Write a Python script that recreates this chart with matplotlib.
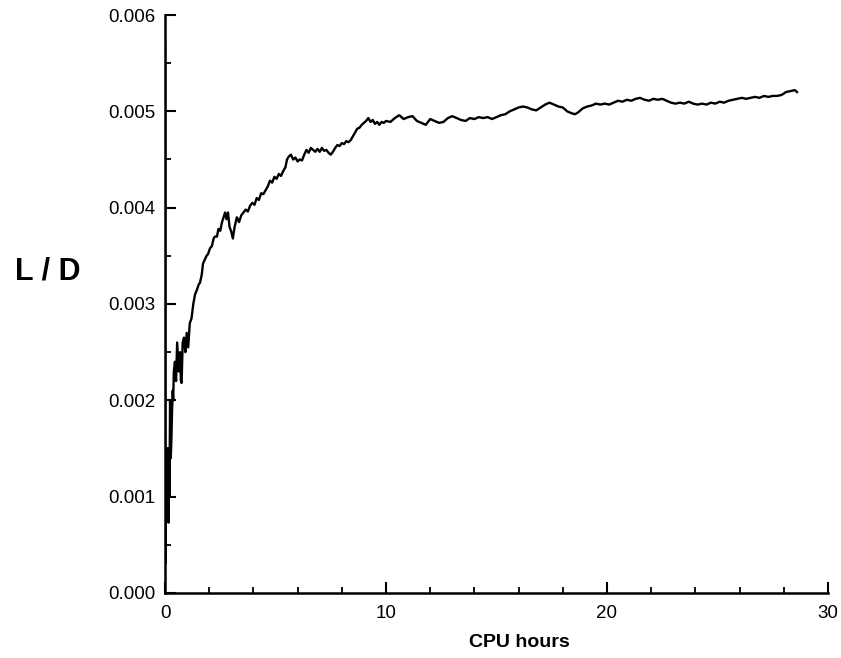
import matplotlib
matplotlib.use("Agg")
import matplotlib.pyplot as plt
from matplotlib.ticker import MultipleLocator, FormatStrFormatter

plt.rcParams['font.family'] = ['Liberation Sans', 'DejaVu Sans']

# Lift-to-drag history versus CPU time
cpu_hours = [
    0.000, 0.005, 0.010, 0.015, 0.025, 0.035, 0.045, 0.055, 0.065, 0.075,
    0.085, 0.095, 0.105, 0.115, 0.125, 0.135, 0.145, 0.160, 0.175, 0.190,
    0.200, 0.215, 0.230, 0.240, 0.260, 0.290, 0.320, 0.350, 0.370, 0.400,
    0.450, 0.500, 0.550, 0.620, 0.680, 0.720, 0.750, 0.800, 0.860, 0.920,
    0.980, 1.050, 1.120, 1.200, 1.280, 1.360, 1.450, 1.520, 1.580, 1.660,
    1.720, 1.800, 1.880, 1.950, 2.040, 2.120, 2.200, 2.260, 2.350, 2.420,
    2.500, 2.580, 2.650, 2.720, 2.780, 2.850, 2.920, 3.000, 3.070, 3.150,
    3.250, 3.350, 3.450, 3.550, 3.650, 3.750, 3.850, 3.950, 4.050, 4.150,
    4.250, 4.350, 4.450, 4.550, 4.650, 4.750, 4.850, 4.950, 5.050, 5.150,
    5.250, 5.350, 5.450, 5.520, 5.600, 5.700, 5.800, 5.900, 6.000, 6.100,
    6.200, 6.300, 6.400, 6.500, 6.600, 6.700, 6.800, 6.900, 7.000, 7.100,
    7.200, 7.300, 7.400, 7.500, 7.600, 7.700, 7.800, 7.900, 8.000, 8.100,
    8.200, 8.300, 8.400, 8.500, 8.600, 8.700, 8.800, 8.900, 9.000, 9.100,
    9.200, 9.300, 9.400, 9.500, 9.600, 9.700, 9.800, 9.900, 10.00, 10.20,
    10.40, 10.60, 10.80, 11.00, 11.20, 11.40, 11.60, 11.80, 12.00, 12.20,
    12.40, 12.60, 12.80, 13.00, 13.20, 13.40, 13.60, 13.80, 14.00, 14.20,
    14.40, 14.60, 14.80, 15.00, 15.20, 15.40, 15.60, 15.80, 16.00, 16.20,
    16.40, 16.60, 16.80, 17.00, 17.20, 17.40, 17.60, 17.80, 18.00, 18.20,
    18.40, 18.55, 18.70, 18.90, 19.10, 19.30, 19.50, 19.70, 19.90, 20.10,
    20.30, 20.50, 20.70, 20.90, 21.10, 21.30, 21.50, 21.70, 21.90, 22.10,
    22.30, 22.50, 22.70, 22.90, 23.10, 23.30, 23.50, 23.70, 23.90, 24.10,
    24.30, 24.50, 24.70, 24.90, 25.10, 25.30, 25.50, 25.70, 25.90, 26.10,
    26.30, 26.50, 26.70, 26.90, 27.10, 27.30, 27.50, 27.70, 27.90, 28.10,
    28.30, 28.50, 28.60,
]

lift_drag = [
    0.00570, 0.00490, 0.00300, 0.00030, 0.00060, 0.00090, 0.00120, 0.00100, 0.00140, 0.00090,
    0.00130, 0.00110, 0.00150, 0.00100, 0.00130, 0.00090, 0.00120, 0.00073, 0.00110, 0.00140,
    0.00100, 0.00150, 0.00200, 0.00170, 0.00140, 0.00160, 0.00190, 0.00210, 0.00200, 0.00230,
    0.00240, 0.00220, 0.00260, 0.00230, 0.00250, 0.00220, 0.00218, 0.00260, 0.00265, 0.00250,
    0.00270, 0.00255, 0.00280, 0.00285, 0.00300, 0.00310, 0.00315, 0.00320, 0.00322, 0.00330,
    0.00342, 0.00346, 0.00350, 0.00352, 0.00358, 0.00360, 0.00368, 0.00370, 0.00370, 0.00378,
    0.00376, 0.00385, 0.00390, 0.00395, 0.00388, 0.00395, 0.00380, 0.00375, 0.00368, 0.00380,
    0.00390, 0.00385, 0.00392, 0.00395, 0.00398, 0.00396, 0.00402, 0.00405, 0.00403, 0.00410,
    0.00408, 0.00415, 0.00414, 0.00418, 0.00422, 0.00428, 0.00426, 0.00432, 0.00430, 0.00435,
    0.00433, 0.00438, 0.00442, 0.00450, 0.00453, 0.00455, 0.00450, 0.00452, 0.00448, 0.00450,
    0.00449, 0.00455, 0.00460, 0.00457, 0.00462, 0.00460, 0.00458, 0.00461, 0.00458, 0.00462,
    0.00459, 0.00460, 0.00457, 0.00455, 0.00458, 0.00462, 0.00465, 0.00464, 0.00467, 0.00466,
    0.00469, 0.00468, 0.00470, 0.00474, 0.00478, 0.00482, 0.00483, 0.00486, 0.00488, 0.00490,
    0.00493, 0.00489, 0.00491, 0.00487, 0.00489, 0.00486, 0.00489, 0.00488, 0.00490, 0.00489,
    0.00493, 0.00496, 0.00492, 0.00494, 0.00495, 0.00490, 0.00488, 0.00486, 0.00492, 0.00490,
    0.00488, 0.00489, 0.00493, 0.00495, 0.00493, 0.00491, 0.00490, 0.00493, 0.00492, 0.00494,
    0.00493, 0.00494, 0.00492, 0.00494, 0.00496, 0.00497, 0.00500, 0.00502, 0.00504, 0.00505,
    0.00504, 0.00502, 0.00501, 0.00504, 0.00507, 0.00509, 0.00507, 0.00505, 0.00504, 0.00500,
    0.00498, 0.00497, 0.00499, 0.00503, 0.00505, 0.00506, 0.00508, 0.00507, 0.00508, 0.00507,
    0.00509, 0.00511, 0.00510, 0.00512, 0.00511, 0.00513, 0.00514, 0.00512, 0.00511, 0.00513,
    0.00512, 0.00513, 0.00511, 0.00509, 0.00508, 0.00509, 0.00508, 0.00510, 0.00508, 0.00507,
    0.00508, 0.00507, 0.00509, 0.00508, 0.00510, 0.00509, 0.00511, 0.00512, 0.00513, 0.00514,
    0.00513, 0.00514, 0.00515, 0.00514, 0.00516, 0.00515, 0.00516, 0.00516, 0.00517, 0.00520,
    0.00521, 0.00522, 0.00520,
]

x_ticks = [0, 10, 20, 30]
y_ticks = [0.000, 0.001, 0.002, 0.003, 0.004, 0.005, 0.006]

fig = plt.figure(figsize=(8.41, 6.58), dpi=100)
ax = fig.add_axes([0.1962, 0.0988, 0.7883, 0.8784])

ax.plot(cpu_hours, lift_drag, color='black', lw=1.7, solid_joinstyle='round')

ax.set_xlim(0, 30)
ax.set_ylim(0, 0.006)
ax.set_xticks(x_ticks)
ax.set_yticks(y_ticks)
ax.xaxis.set_minor_locator(MultipleLocator(2))
ax.yaxis.set_minor_locator(MultipleLocator(0.0005))
ax.yaxis.set_major_formatter(FormatStrFormatter('%.3f'))
ax.xaxis.set_major_formatter(FormatStrFormatter('%d'))

for side in ('top', 'right'):
    ax.spines[side].set_visible(False)
for side in ('left', 'bottom'):
    ax.spines[side].set_linewidth(1.8)

ax.tick_params(which='major', direction='in', length=8, width=1.5,
               labelsize=13.5, pad=7)
ax.tick_params(which='minor', direction='in', length=4.5, width=1.3)
ax.tick_params(axis='x', which='major', pad=9)

fig.text(0.0571, 0.587, 'L / D', fontsize=22, fontweight='bold',
         ha='center', va='center')
fig.text(0.618, 0.023, 'CPU hours', fontsize=14, fontweight='bold',
         ha='center', va='center')

fig.savefig('out.png', dpi=100)
